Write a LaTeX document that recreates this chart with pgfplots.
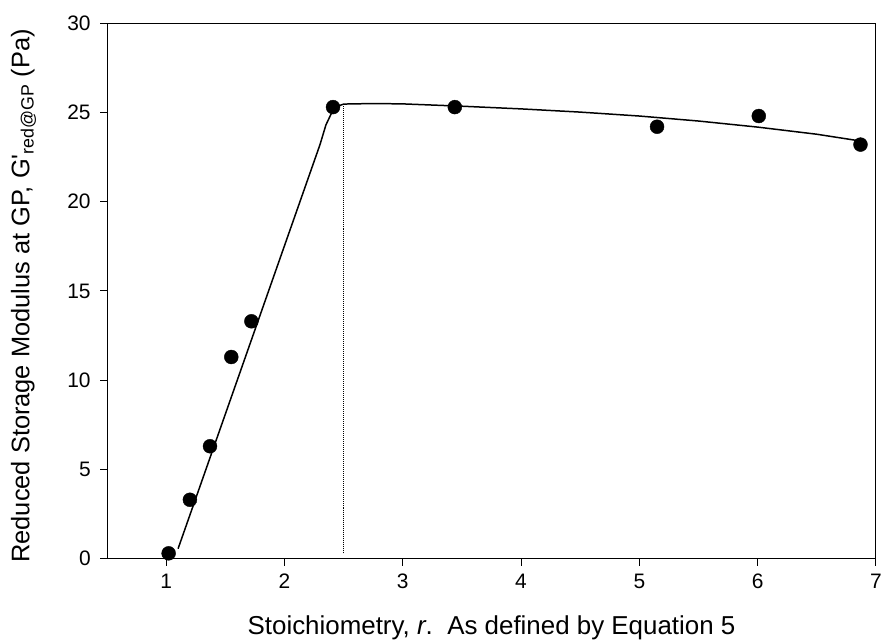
\documentclass[border=0pt]{standalone}
\usepackage{pgfplots}
\pgfplotsset{compat=1.18}
\usepackage{fontspec}
\setmainfont{Liberation Sans}
\usetikzlibrary{calc}
\begin{document}
\begin{tikzpicture}
\begin{axis}[
  scale only axis,
  width=771.5pt, height=537.4pt,
  xmin=0.5, xmax=7, ymin=0, ymax=30,
  xtick={1,2,3,4,5,6,7}, ytick={0,5,10,15,20,25,30},
  axis line style={line width=1.1pt},
  tick style={line width=1.1pt, black},
  xtick pos=bottom, ytick pos=left,
  tick align=outside,
  major tick length=7pt,
  /pgf/number format/assume math mode=true,
  ticklabel style={font=\fontsize{21}{25}\selectfont},
  xticklabel style={yshift=-5pt},
  yticklabel style={xshift=-6pt},
  xlabel={Stoichiometry, \textit{r}.\ \ As defined by Equation 5},
  xlabel style={font=\fontsize{26}{30}\selectfont, at={(axis description cs:0.5,0)}, anchor=base, yshift=-76pt},
  ylabel={Reduced Storage Modulus at GP, G\textquotesingle\textsubscript{red@GP} (Pa)},
  ylabel style={font=\fontsize{25.5}{30}\selectfont, at={($(axis description cs:0,0.5)+(-78pt,-5pt)$)}, rotate=0, anchor=base},
  clip=false,
]
\addplot[black, line width=1.5pt] coordinates {
(1.10,0.56) (2.30,23.2) (2.35,24.3) (2.40,25.0) (2.45,25.35) (2.5,25.47) (2.75,25.5) (3.0,25.48) (3.5,25.35) (4.0,25.2) (4.5,25.02) (5.0,24.8) (5.5,24.52) (6.0,24.18) (6.5,23.78) (6.87,23.4)
};
\addplot[black, line width=1.3pt, dash pattern=on 1pt off 1pt] coordinates {(2.5,0.3) (2.5,25.45)};
\addplot[only marks, mark=*, mark size=7pt, black] coordinates {
(1.02,0.3) (1.2,3.3) (1.37,6.3) (1.55,11.3) (1.72,13.3) (2.41,25.3) (3.44,25.3) (5.15,24.2) (6.01,24.8) (6.87,23.2)
};
\end{axis}
\path ($(current axis.south west)+(-107.5pt,-83pt)$) rectangle ($(current axis.north east)+(6pt,23.3pt)$);
\end{tikzpicture}
\end{document}
